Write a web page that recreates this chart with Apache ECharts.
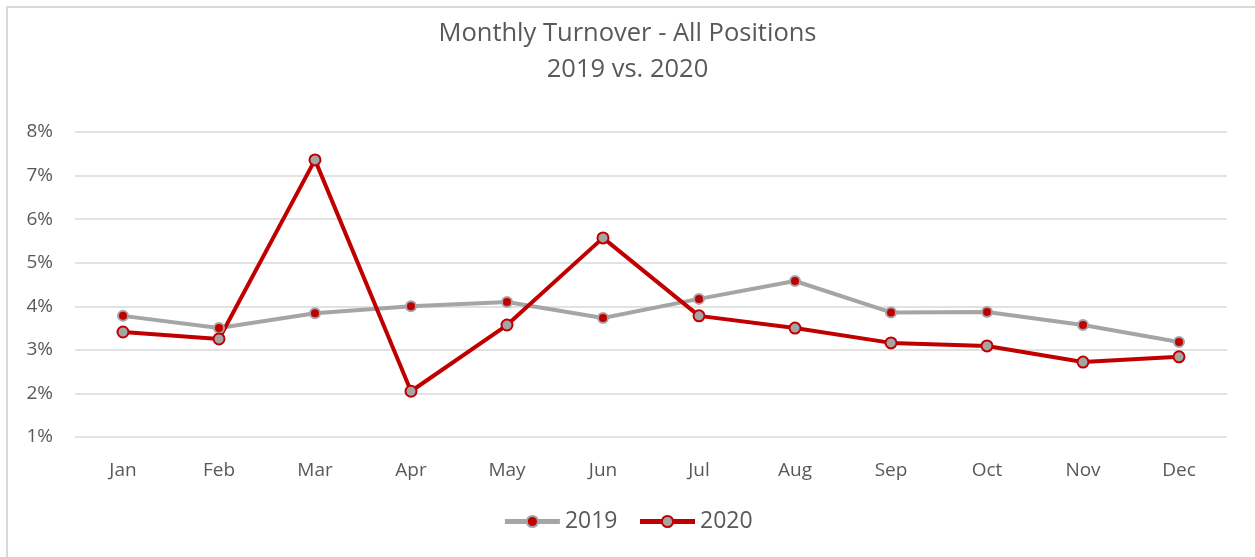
<!DOCTYPE html>
<html>
<head>
<meta charset="utf-8">
<title>Monthly Turnover - All Positions</title>
<script src="https://cdn.jsdelivr.net/npm/echarts@6/dist/echarts.min.js"></script>
<style>
html, body { margin: 0; padding: 0; background: #fff; overflow: hidden; }
#frame {
	position: absolute; left: 6px; top: 6px; width: 1300px; height: 600px;
	border-left: 2px solid #d9d9d9; border-top: 2px solid #d9d9d9;
}
#main { position: absolute; left: 0; top: 0; width: 1255px; height: 557px; }
</style>
</head>
<body>
<div id="frame"></div>
<div id="main"></div>
<script type="text/javascript">
// data
var months = ['Jan', 'Feb', 'Mar', 'Apr', 'May', 'Jun', 'Jul', 'Aug', 'Sep', 'Oct', 'Nov', 'Dec'];
var turnover2019 = [3.78, 3.50, 3.84, 4.00, 4.10, 3.73, 4.17, 4.58, 3.86, 3.87, 3.57, 3.18];
var turnover2020 = [3.41, 3.25, 7.36, 2.05, 3.57, 5.57, 3.78, 3.50, 3.16, 3.09, 2.72, 2.84];

var txt = '#595959';
var font = '"Open Sans", "Liberation Sans", sans-serif';

var chart = echarts.init(document.getElementById('main'));
var option = {
	backgroundColor: 'transparent',
	animation: false,
	title: {
		text: 'Monthly Turnover - All Positions\n2019 vs. 2020',
		left: 'center',
		top: 11,
		textStyle: { color: txt, fontFamily: font, fontSize: 25.5, fontWeight: 'normal', lineHeight: 36 }
	},
	legend: {
		bottom: 19,
		left: 'center',
		itemWidth: 55,
		itemHeight: 14,
		itemGap: 20,
		lineStyle: { width: 5 },
		textStyle: { color: txt, fontFamily: font, fontSize: 23 },
		data: ['2019', '2020']
	},
	grid: { left: 75, right: 28, top: 132, bottom: 120 },
	xAxis: {
		type: 'category',
		data: months,
		boundaryGap: true,
		axisLine: { show: false },
		axisTick: { show: false },
		axisLabel: { color: txt, fontFamily: font, fontSize: 19, margin: 24 }
	},
	yAxis: {
		type: 'value',
		min: 1,
		max: 8,
		interval: 1,
		axisLine: { show: false },
		axisTick: { show: false },
		axisLabel: { color: txt, fontFamily: font, fontSize: 19, margin: 22, formatter: '{value}%' },
		splitLine: { lineStyle: { color: '#d9d9d9', width: 1.5 } }
	},
	series: [
		{
			name: '2019',
			type: 'line',
			data: turnover2019,
			symbol: 'circle',
			symbolSize: 10,
			lineStyle: { color: '#a5a5a5', width: 4 },
			itemStyle: { color: '#c00000', borderColor: '#a5a5a5', borderWidth: 2 }
		},
		{
			name: '2020',
			type: 'line',
			data: turnover2020,
			symbol: 'circle',
			symbolSize: 11,
			lineStyle: { color: '#c00000', width: 4 },
			itemStyle: { color: '#a5a5a5', borderColor: '#c00000', borderWidth: 2 }
		}
	]
};
chart.setOption(option);
</script>
</body>
</html>
